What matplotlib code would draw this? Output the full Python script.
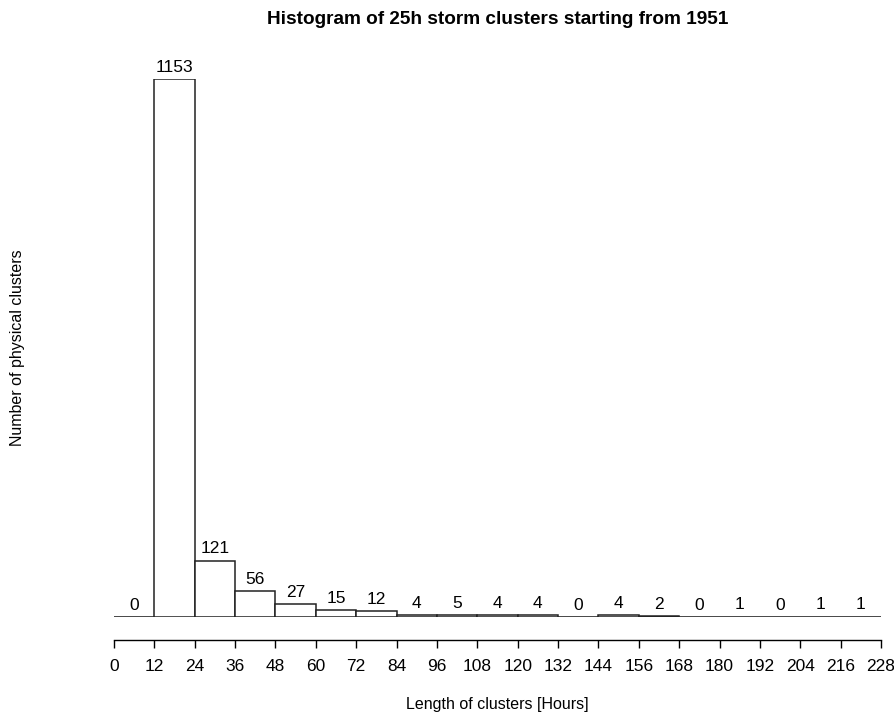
import matplotlib
matplotlib.use("Agg")
import matplotlib.pyplot as plt
import numpy as np

plt.rcParams['font.family'] = ['Liberation Sans', 'DejaVu Sans']

bin_edges = list(range(0, 229, 12))
counts = [0, 1153, 121, 56, 27, 15, 12, 4, 5, 4, 4, 0, 4, 2, 0, 1, 0, 1, 1]
tick_labels = [str(v) for v in bin_edges]

fig = plt.figure(figsize=(8.95, 7.18), dpi=100)
ax = fig.add_axes([114/895, 1-617/718, 767/895, (617-79)/718])

lefts = np.array(bin_edges[:-1])
widths = np.diff(bin_edges)
ax.bar(lefts, counts, width=widths, align='edge', facecolor='white',
       edgecolor='#222222', linewidth=1.1, zorder=2)
ax.axhline(0, color='#333333', linewidth=1.0, zorder=1)

for l, w, c in zip(lefts, widths, counts):
    ax.annotate(str(c), (l + w/2, c), xytext=(0, 3), textcoords='offset points',
                ha='center', va='bottom', fontsize=12.5)

ax.set_xlim(0, 228)
ax.set_ylim(0, 1153)
for s in ['top', 'right', 'left']:
    ax.spines[s].set_visible(False)
ax.spines['bottom'].set_position(('outward', 16.5))
ax.spines['bottom'].set_linewidth(1.0)
ax.set_yticks([])
ax.set_xticks(bin_edges)
ax.set_xticklabels(tick_labels, fontsize=12.5)
ax.tick_params(axis='x', length=6, width=1.0, pad=8)

fig.text(0.5 * (114 + 881) / 895, 1 - 705/718, 'Length of clusters [Hours]',
         ha='center', va='center', fontsize=11.5)
fig.text(18/895, 1 - 348/718, 'Number of physical clusters', rotation=90,
         ha='center', va='center', fontsize=11.5)
fig.text(0.5 * (114 + 881) / 895, 1 - 19/718, 'Histogram of 25h storm clusters starting from 1951',
         ha='center', va='center', fontsize=13.7, fontweight='bold')

fig.savefig('out.png', dpi=100)
